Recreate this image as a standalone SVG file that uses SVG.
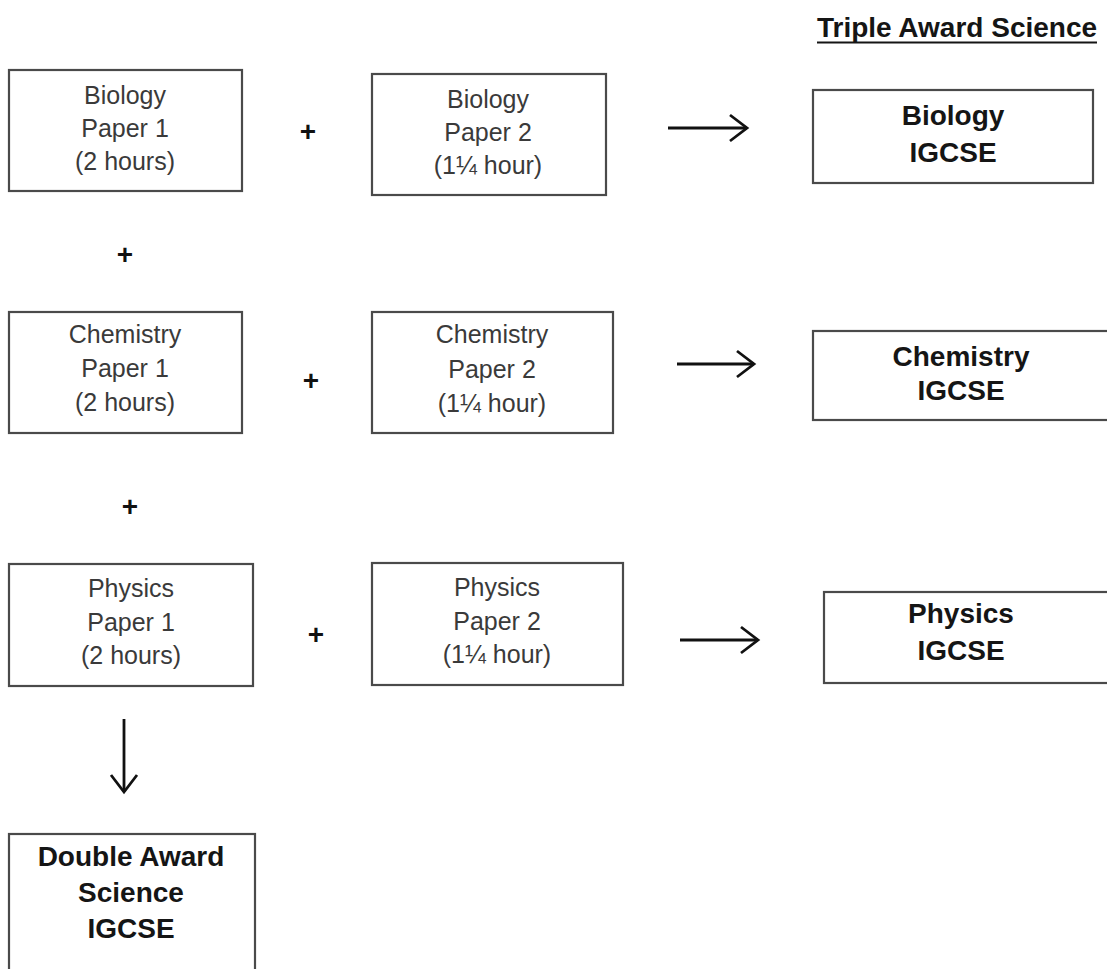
<svg xmlns="http://www.w3.org/2000/svg" width="1107" height="969" viewBox="0 0 1107 969">
<defs>
<style>
.box{fill:#fff;stroke:#4a4a4a;stroke-width:2.2}
.t{font-family:"Liberation Sans",Arial,sans-serif;font-size:25px;fill:#3a3a3a;text-anchor:middle}
.b{font-family:"Liberation Sans",Arial,sans-serif;font-size:28px;font-weight:bold;fill:#151515;text-anchor:middle}
.plus{font-family:"Liberation Sans",Arial,sans-serif;font-size:28px;font-weight:bold;fill:#111;text-anchor:middle}
.conn{stroke:#111;stroke-width:2.8;fill:none;marker-end:url(#arr)}
</style>
<marker id="arr" markerUnits="userSpaceOnUse" markerWidth="24" markerHeight="32" refX="20" refY="15" orient="auto" viewBox="0 0 24 32">
<path d="M3,2 L20,15 L3,28" fill="none" stroke="#111" stroke-width="2.8" stroke-linejoin="miter"/>
</marker>
</defs>
<rect width="1107" height="969" fill="#fff"/>

<g id="title">
<text x="957" y="37" class="b">Triple Award Science</text>
<line x1="817" y1="42.5" x2="1097" y2="42.5" stroke="#151515" stroke-width="2"/>
</g>

<g id="bio1">
<rect class="box" x="9" y="70" width="233" height="121"/>
<text class="t" x="125" y="104">Biology</text>
<text class="t" x="125" y="137">Paper 1</text>
<text class="t" x="125" y="170">(2 hours)</text>
</g>
<g id="bio2">
<rect class="box" x="372" y="74" width="234" height="121"/>
<text class="t" x="488" y="108">Biology</text>
<text class="t" x="488" y="141">Paper 2</text>
<text class="t" x="488" y="174">(1¼ hour)</text>
</g>
<g id="bioIG">
<rect class="box" x="813" y="90" width="280" height="93"/>
<text class="b" x="953" y="125">Biology</text>
<text class="b" x="953" y="162">IGCSE</text>
</g>

<g id="chem1">
<rect class="box" x="9" y="312" width="233" height="121"/>
<text class="t" x="125" y="343">Chemistry</text>
<text class="t" x="125" y="377">Paper 1</text>
<text class="t" x="125" y="411">(2 hours)</text>
</g>
<g id="chem2">
<rect class="box" x="372" y="312" width="241" height="121"/>
<text class="t" x="492" y="343">Chemistry</text>
<text class="t" x="492" y="378">Paper 2</text>
<text class="t" x="492" y="412">(1¼ hour)</text>
</g>
<g id="chemIG">
<rect class="box" x="813" y="331" width="300" height="89"/>
<text class="b" x="961" y="366">Chemistry</text>
<text class="b" x="961" y="400">IGCSE</text>
</g>

<g id="phys1">
<rect class="box" x="9" y="564" width="244" height="122"/>
<text class="t" x="131" y="597">Physics</text>
<text class="t" x="131" y="631">Paper 1</text>
<text class="t" x="131" y="664">(2 hours)</text>
</g>
<g id="phys2">
<rect class="box" x="372" y="563" width="251" height="122"/>
<text class="t" x="497" y="596">Physics</text>
<text class="t" x="497" y="630">Paper 2</text>
<text class="t" x="497" y="663">(1¼ hour)</text>
</g>
<g id="physIG">
<rect class="box" x="824" y="592" width="290" height="91"/>
<text class="b" x="961" y="623">Physics</text>
<text class="b" x="961" y="660">IGCSE</text>
</g>

<g id="double">
<rect class="box" x="9" y="834" width="246" height="150"/>
<text class="b" x="131" y="866">Double Award</text>
<text class="b" x="131" y="902">Science</text>
<text class="b" x="131" y="938">IGCSE</text>
</g>

<g id="plus-signs">
<text class="plus" x="308" y="141">+</text>
<text class="plus" x="125" y="264">+</text>
<text class="plus" x="311" y="390">+</text>
<text class="plus" x="130" y="516">+</text>
<text class="plus" x="316" y="644">+</text>
</g>

<g id="connectors">
<line class="conn" x1="668" y1="128" x2="747" y2="128"/>
<line class="conn" x1="677" y1="364" x2="754" y2="364"/>
<line class="conn" x1="680" y1="640" x2="758" y2="640"/>
<line class="conn" x1="124" y1="719" x2="124" y2="792"/>
</g>
</svg>
